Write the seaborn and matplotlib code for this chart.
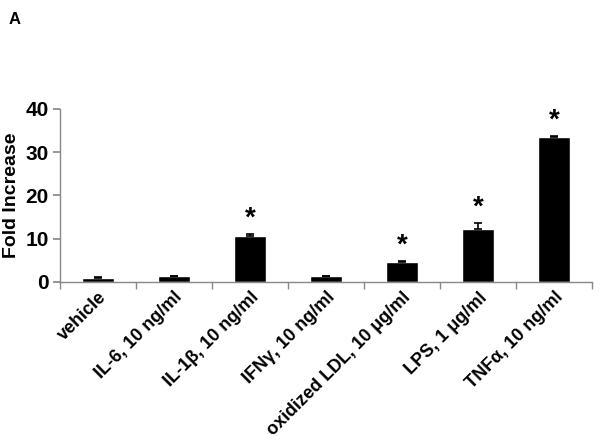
import numpy as np
import pandas as pd
import matplotlib
matplotlib.use("Agg")
import matplotlib.pyplot as plt
import seaborn as sns

treatments = ["vehicle", "IL-6, 10 ng/ml", "IL-1\u03b2, 10 ng/ml", "IFN\u03b3, 10 ng/ml",
              "oxidized LDL, 10 \u03bcg/ml", "LPS, 1 \u03bcg/ml", "TNF\u03b1, 10 ng/ml"]
fold = [1.0, 1.3, 10.7, 1.3, 4.5, 12.3, 33.5]
err = [0.15, 0.15, 0.4, 0.15, 0.3, 1.3, 0.1]
significant = [False, False, True, False, True, True, True]

sns.set_theme(style="white")
plt.rcParams["font.family"] = ["Liberation Sans", "DejaVu Sans"]
plt.rcParams["text.color"] = "black"

df = pd.DataFrame({"treatment": treatments, "fold": fold})

fig = plt.figure(figsize=(6, 4.44), dpi=100)
ax = fig.add_axes([0.1, 0.365, 0.887, 0.39])
sns.barplot(data=df, x="treatment", y="fold", color="black", width=0.42,
            saturation=1, errorbar=None, ax=ax)
xs = np.arange(len(treatments))
ax.errorbar(xs, fold, yerr=[np.zeros(len(err)), err], fmt="none", ecolor="black",
            elinewidth=1.2, capsize=3, capthick=1.2)

for x, v, e, s in zip(xs, fold, err, significant):
    if s:
        ax.text(x, v + e + 0.6, "*", ha="center", va="bottom", fontsize=20,
                fontweight="bold", color="black")

ax.set_ylim(0, 40)
ax.set_xlim(-0.5, len(treatments) - 0.5)
ax.set_yticks([0, 10, 20, 30, 40])
ax.set_yticklabels(["0", "10", "20", "30", "40"], fontsize=15, fontweight="bold")
ax.set_xticks(xs)
ax.set_xticklabels(treatments, rotation=45, ha="right", rotation_mode="anchor",
                   fontsize=13, fontweight="bold")
ax.set_xticks(np.arange(-0.5, len(treatments), 1), minor=True)
ax.tick_params(axis="x", which="major", length=0, pad=5, labelcolor="black")
ax.tick_params(axis="x", which="minor", length=5, color="#888888", direction="out", bottom=True)
ax.tick_params(axis="y", length=5, color="#888888", direction="out", left=True, pad=3,
               labelcolor="black")
ax.set_xlabel("")
ax.set_ylabel("Fold Increase", fontsize=14, fontweight="bold", color="black")

for side in ["top", "right"]:
    ax.spines[side].set_visible(False)
for side in ["left", "bottom"]:
    ax.spines[side].set_color("#888888")
    ax.spines[side].set_linewidth(1)

fig.text(0.015, 0.955, "A", fontsize=12, fontweight="bold", va="center", color="black")

fig.savefig("out.png", dpi=100, facecolor="white")
